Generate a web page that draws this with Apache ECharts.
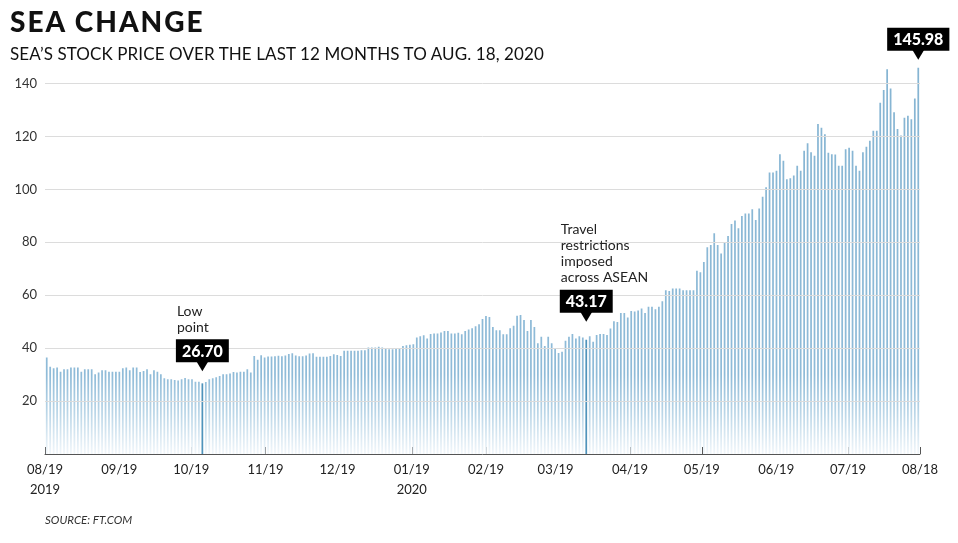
<!DOCTYPE html>
<html>
<head>
<meta charset="utf-8">
<script src="https://cdn.jsdelivr.net/npm/echarts@6/dist/echarts.min.js"></script>
<style>
  html, body { margin: 0; padding: 0; background: #fff; }
  #wrap { position: relative; width: 958px; height: 543px; overflow: hidden; }
  #chart { position: absolute; left: 0; top: 0; width: 958px; height: 543px; }
  .title { position: absolute; left: 10px; top: 4px; font-family: Lato, sans-serif; font-weight: 900; font-size: 28px; letter-spacing: 2px; color: #111; }
  .sub { position: absolute; left: 10px; top: 43px; font-family: Lato, sans-serif; font-weight: 400; font-size: 17px; letter-spacing: 0.1px; color: #111; }
  .src { position: absolute; left: 45px; top: 513px; font-family: Lato, sans-serif; font-style: italic; font-size: 11.5px; color: #333; }
</style>
</head>
<body>
<div id="wrap">
  <div id="chart"></div>
  <div class="title">SEA CHANGE</div>
  <div class="sub">SEA’S STOCK PRICE OVER THE LAST 12 MONTHS TO AUG. 18, 2020</div>
  <div class="src">SOURCE: FT.COM</div>
</div>
<script>
// Daily closing price (USD), trading days 19 Aug 2019 .. 18 Aug 2020
const prices = [
  36.5, 33.0, 32.4, 32.7, 31.1, 32.0, 32.0, 32.7, 32.7, 32.7,
  31.1, 32.0, 32.0, 32.0, 30.1, 30.8, 31.6, 31.6, 31.1, 31.1,
  31.1, 31.1, 32.4, 32.7, 31.6, 32.7, 32.7, 31.0, 31.4, 32.0,
  30.1, 31.6, 31.1, 30.1, 28.6, 28.2, 28.2, 28.0, 27.8, 28.2,
  28.7, 28.2, 28.2, 27.3, 27.3, 26.7, 27.2, 28.2, 28.6, 29.0,
  29.5, 30.1, 30.1, 30.4, 31.0, 30.8, 31.1, 31.1, 32.0, 30.8,
  37.0, 35.6, 37.3, 36.5, 36.8, 36.8, 36.9, 37.1, 36.9, 37.2,
  37.8, 38.1, 37.2, 36.9, 36.9, 37.2, 38.0, 38.1, 36.7, 36.7,
  36.7, 36.7, 37.0, 37.7, 37.4, 37.0, 39.0, 39.0, 39.0, 39.0,
  39.0, 39.2, 39.2, 40.2, 40.2, 40.2, 40.5, 40.2, 39.9, 39.6,
  39.6, 39.9, 39.9, 40.8, 41.1, 41.3, 41.5, 44.0, 44.5, 44.9,
  43.6, 45.3, 45.5, 45.5, 45.9, 46.5, 46.5, 45.5, 45.5, 45.8,
  45.2, 46.5, 47.0, 47.5, 48.3, 49.0, 51.0, 52.1, 51.8, 48.0,
  46.8, 46.8, 45.2, 45.2, 47.5, 48.5, 52.2, 52.5, 50.6, 46.5,
  50.6, 48.0, 41.8, 44.3, 40.8, 44.3, 41.8, 39.9, 38.2, 38.6,
  42.8, 44.3, 45.3, 43.6, 44.5, 44.0, 43.17, 44.5, 42.4, 45.0,
  45.3, 45.3, 45.0, 47.4, 50.2, 49.9, 53.3, 53.3, 51.6, 54.0,
  53.8, 54.2, 55.0, 53.3, 55.6, 55.6, 54.7, 55.6, 57.7, 61.9,
  61.6, 62.5, 62.5, 62.5, 61.9, 61.9, 61.9, 61.9, 69.2, 68.7,
  72.5, 78.1, 79.0, 83.4, 79.0, 75.8, 80.0, 82.4, 86.9, 88.2,
  85.3, 89.9, 90.9, 90.9, 92.5, 88.4, 92.8, 97.2, 100.8, 106.4,
  106.4, 107.0, 113.3, 110.8, 103.8, 104.2, 105.2, 108.9, 107.0, 114.6,
  117.4, 114.0, 112.7, 124.7, 123.3, 120.8, 113.8, 113.3, 113.2, 108.9,
  108.9, 115.1, 115.7, 114.6, 108.9, 107.0, 114.0, 116.1, 118.4, 122.1,
  122.1, 132.7, 137.5, 145.4, 138.1, 129.1, 122.8, 120.3, 127.0, 127.8,
  126.5, 134.3, 145.98
];
const barIndex = prices.map((v, i) => i);

// Calendar tick positions and labels
const startDate = '2019-08-19';
const endDate = '2020-08-18';
const tickDates = ['2019-08-19','2019-09-19','2019-10-19','2019-11-19','2019-12-19','2020-01-19','2020-02-19','2020-03-19','2020-04-19','2020-05-19','2020-06-19','2020-07-19','2020-08-18'];
const tickLabels = ['08/19\n2019','09/19','10/19','11/19','12/19','01/19\n2020','02/19','03/19','04/19','05/19','06/19','07/19','08/18'];
const yTicks = [20, 40, 60, 80, 100, 120, 140];

// Annotated bars (marked = drawn as a darker bar)
const annotations = [
  { idx: 45, text: '26.70', note: ['Low', 'point'], gap: 12, marked: true },
  { idx: 156, text: '43.17', note: ['Travel', 'restrictions', 'imposed', 'across ASEAN'], gap: 18, marked: true },
  { idx: 252, text: '145.98', note: [], gap: 8, marked: false }
];

// calendar day categories
const calDays = [];
(function () {
  const d = new Date(startDate + 'T00:00:00Z');
  const e = new Date(endDate + 'T00:00:00Z');
  while (d <= e) { calDays.push(d.toISOString().slice(0, 10)); d.setUTCDate(d.getUTCDate() + 1); }
})();

const chart = echarts.init(document.getElementById('chart'), null, { renderer: 'canvas' });
const hiIdx = annotations.filter(a => a.marked).map(a => a.idx);
const barColor = new echarts.graphic.LinearGradient(0, 57, 0, 454, [
  { offset: 0, color: '#85b4d2' },
  { offset: 0.80, color: '#8fbbd8' },
  { offset: 0.90, color: '#bcd7e8' },
  { offset: 1, color: '#f2f7fb' }
], true);

const option = {
  animation: false,
  textStyle: { fontFamily: 'Lato, sans-serif' },
  grid: { left: 45, right: 38, top: 57, bottom: 89, containLabel: false },
  xAxis: [
    { type: 'category', data: barIndex, show: false, boundaryGap: true },
    {
      type: 'category', data: calDays, boundaryGap: false, position: 'bottom',
      axisLine: { show: true, lineStyle: { color: '#555', width: 1 } },
      axisTick: { show: true, inside: true, length: 7, lineStyle: { color: '#555' },
        interval: (i, v) => tickDates.indexOf(v) >= 0 },
      axisLabel: { show: true, interval: (i, v) => tickDates.indexOf(v) >= 0,
        formatter: v => tickLabels[tickDates.indexOf(v)] || '',
        color: '#222', fontSize: 13, lineHeight: 20, margin: 6, verticalAlign: 'top' },
      splitLine: { show: false }
    }
  ],
  yAxis: {
    type: 'value', min: 0, max: 150, interval: 10,
    axisLine: { show: false }, axisTick: { show: false },
    splitLine: { show: false },
    axisLabel: { color: '#333', fontSize: 13, margin: 8,
      formatter: v => (yTicks.indexOf(v) >= 0 ? String(v) : '') }
  },
  series: [{
    type: 'bar', xAxisIndex: 0, barWidth: '50%',
    data: prices.map((v, i) => hiIdx.indexOf(i) >= 0 ? { value: v, itemStyle: { color: '#4f93bb' } } : v),
    itemStyle: { color: barColor },
    markLine: {
      silent: true, symbol: 'none', label: { show: false }, animation: false,
      lineStyle: { color: '#dcdcdc', width: 1, type: 'solid' },
      data: yTicks.map(v => ({ yAxis: v }))
    },
    z: 2
  }]
};
chart.setOption(option);

// annotations
const ctx = document.createElement('canvas').getContext('2d');
const boxFont = '900 16px Lato';
ctx.font = boxFont;
const graphics = [];
annotations.forEach(a => {
  const p = chart.convertToPixel({ seriesIndex: 0 }, [a.idx, prices[a.idx]]);
  const x = p[0];
  const tipY = p[1] - a.gap;
  const w = ctx.measureText(a.text).width + 12;
  const h = 23;
  const boxBottom = tipY - 9;
  const boxTop = boxBottom - h;
  const left = x - w / 2;
  graphics.push({ type: 'polygon', shape: { points: [[x - 6, boxBottom - 1], [x + 6, boxBottom - 1], [x, tipY]] }, style: { fill: '#000' }, z: 10 });
  graphics.push({ type: 'rect', shape: { x: left, y: boxTop, width: w, height: h }, style: { fill: '#000' }, z: 10 });
  graphics.push({ type: 'text', x: x, y: boxTop + h / 2 + 1, style: { text: a.text, font: boxFont, fill: '#fff', align: 'center', verticalAlign: 'middle' }, z: 11 });
  const n = a.note.length;
  a.note.forEach((line, k) => {
    graphics.push({ type: 'text', x: left + 1, y: boxTop - 12 - (n - 1 - k) * 16,
      style: { text: line, font: '400 14px Lato', fill: '#222', align: 'left', verticalAlign: 'middle' }, z: 11 });
  });
});
chart.setOption({ graphic: graphics });
</script>
</body>
</html>
